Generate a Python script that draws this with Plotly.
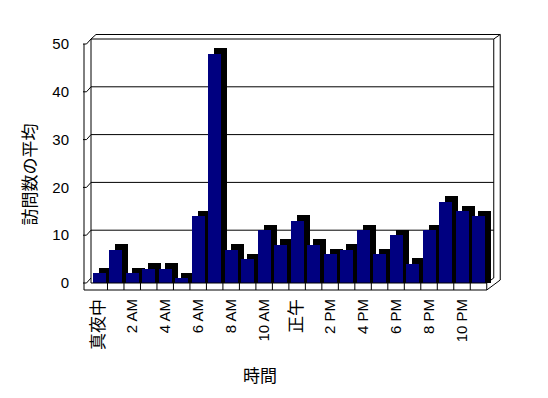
import plotly.graph_objects as go

# ---- data ----
hours = list(range(24))
visits = [2, 7, 2, 3, 3, 1, 14, 48, 7, 5, 11, 8, 13, 8, 6, 7, 11, 6, 10, 4, 11, 17, 15, 14]
tick_positions = [0, 2, 4, 6, 8, 10, 12, 14, 16, 18, 20, 22]
tick_labels = ["真夜中", "2 AM", "4 AM", "6 AM", "8 AM", "10 AM", "正午",
               "2 PM", "4 PM", "6 PM", "8 PM", "10 PM"]
y_ticks = [0, 10, 20, 30, 40, 50]
x_title = "時間"
y_title = "訪問数の平均"

# ---- geometry (pixels) ----
FIG_W, FIG_H = 548, 398
L = 91.0            # left of front plane
CW = 16.5           # category width px
B = 283.0           # y px of value 0 (front)
T = 44.0            # y px of value 50 (front)
YMAX = 50
PPU = (B - T) / YMAX
XMAX = 24.0
W = (XMAX + 0.5) * CW
R = L + W
H = B - T
DX, DY = 7.0, 5.0          # box depth offset
BDX, BDY = 6.0, 5.5        # bar depth offset
FRONT_IN, FRONT_W = 2.0, 13.0

def P(px, py):
    return (px - L) / W, (B - py) / H

shapes = []
def line(x0, y0, x1, y1, layer="above", width=1):
    a, b = P(x0, y0)
    c, d = P(x1, y1)
    shapes.append(dict(type="line", xref="paper", yref="paper", x0=a, y0=b, x1=c, y1=d,
                       line=dict(color="black", width=width), layer=layer))

front_right = L + 24 * CW
def yf(v):
    return B - v * PPU

# back wall gridlines + left wall ticks
for v in y_ticks:
    if v > 0:
        line(L, yf(v) - DY, front_right + DX, yf(v) - DY, layer="below")
    line(83, yf(v), 86.5, yf(v), layer="below")
    line(86.5, yf(v), L, yf(v) - DY, layer="below")

# left wall
line(84, T, 84, B + 7)
line(L, T - DY, L, B)
# back wall right edges & top
line(front_right + DX, T - DY, front_right + DX, B - DY)
line(front_right + DX + 6.5, T - DY - 4.5, front_right + DX + 6.5, B - 3)
line(L + 5, T - DY - 4.5, front_right + DX + 6.5, T - DY - 4.5)
line(L, T - DY, L + 5, T - DY - 4.5)
line(front_right + DX, T - DY, front_right + DX + 6.5, T - DY - 4.5)
# floor
line(L, B, front_right, B)
line(84, B + 7, front_right, B + 7)
for k in range(1, 25):
    line(L + k * CW, B, L + k * CW, B + 7)
line(front_right, B, front_right + DX, B - DY)
line(front_right, B + 7, front_right + DX + 6.5, B - 3)

off_front = -0.5 + FRONT_IN / CW
w_front = FRONT_W / CW
off_back = off_front + BDX / CW
dv = BDY / PPU

fig = go.Figure()
fig.add_trace(go.Bar(x=hours, y=[v + dv for v in visits], base=0,
                     offset=off_back, width=w_front,
                     marker=dict(color="black", line=dict(width=0)),
                     hoverinfo="skip", showlegend=False))
fig.add_trace(go.Bar(x=hours, y=visits, offset=off_front, width=w_front,
                     marker=dict(color="#000080", line=dict(width=0)),
                     showlegend=False))

ticktext = []
for t in tick_labels:
    if any(ord(ch) > 0x3000 for ch in t):
        ticktext.append('<span style="font-size:17px">' + t + '</span>')
    else:
        ticktext.append(t)

FONT = "Liberation Sans, Noto Sans CJK JP"
fig.update_layout(
    width=FIG_W, height=FIG_H,
    margin=dict(l=L, r=FIG_W - R, t=T, b=FIG_H - B, pad=0),
    paper_bgcolor="white", plot_bgcolor="rgba(0,0,0,0)",
    barmode="overlay", bargap=0,
    font=dict(family=FONT, color="black", size=15),
    shapes=shapes,
    xaxis=dict(range=[-0.5, XMAX], tickmode="array", tickvals=tick_positions,
               ticktext=ticktext, tickangle=-90, showgrid=False, zeroline=False,
               showline=False, ticks="", tickfont=dict(size=15, family=FONT),
               ticklabelstandoff=12, fixedrange=True),
    yaxis=dict(range=[0, YMAX], tickmode="array", tickvals=y_ticks,
               showgrid=False, zeroline=False, showline=False, ticks="",
               tickfont=dict(size=15, family=FONT), ticklabelstandoff=21,
               fixedrange=True),
    annotations=[
        dict(text=x_title, xref="paper", yref="paper", x=P(260, 0)[0], y=P(0, 374)[1],
             showarrow=False, font=dict(size=17, family="Noto Sans CJK JP"),
             xanchor="center", yanchor="middle"),
        dict(text=y_title, xref="paper", yref="paper", x=P(28, 0)[0], y=P(0, 174.5)[1],
             showarrow=False, textangle=-90, font=dict(size=17, family="Noto Sans CJK JP"),
             xanchor="center", yanchor="middle"),
    ],
)

fig.write_html("out.html", config={"displayModeBar": False},
               post_script="document.body.style.margin='0';document.body.style.padding='0';")
